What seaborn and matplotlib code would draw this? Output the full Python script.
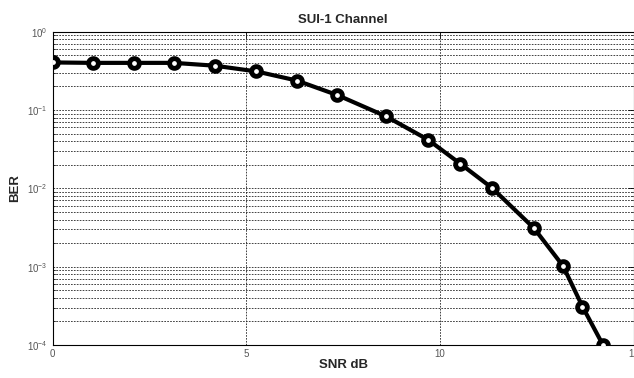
import matplotlib
matplotlib.use("Agg")
import matplotlib.pyplot as plt
import seaborn as sns
import pandas as pd
import numpy as np
from matplotlib.ticker import LogLocator, FixedLocator

snr_db = [0, 1.04, 2.1, 3.13, 4.19, 5.26, 6.3, 7.35, 8.61, 9.69, 10.52, 11.34, 12.42, 13.17, 13.67, 14.2]
ber = [0.405, 0.4, 0.4, 0.4, 0.368, 0.311, 0.238, 0.155, 0.0827, 0.0417, 0.0206, 0.0101, 0.0031, 0.00102, 0.00031, 0.0001]
x_ticks = [0, 5, 10, 15]

df = pd.DataFrame({"SNR dB": snr_db, "BER": ber})

sns.set_theme(style="white")
plt.rcParams["font.family"] = ["Liberation Sans", "DejaVu Sans"]
plt.rcParams["mathtext.fontset"] = "custom"
plt.rcParams["mathtext.rm"] = "Liberation Sans"
plt.rcParams["mathtext.it"] = "Liberation Sans"

fig = plt.figure(figsize=(6.34, 3.78), dpi=100)
ax = fig.add_axes([52.5 / 634, 1 - 345 / 378, 1 - 52.5 / 634, (345 - 31.7) / 378])

sns.lineplot(data=df, x="SNR dB", y="BER", ax=ax, color="black", linewidth=3.0,
             marker="o", markersize=7, markerfacecolor="white",
             markeredgecolor="black", markeredgewidth=3.5, zorder=5)

ax.set_yscale("log")
ax.set_xlim(0, 15)
ax.set_ylim(1e-4, 1e0)
ax.xaxis.set_major_locator(FixedLocator(x_ticks))
ax.yaxis.set_major_locator(LogLocator(base=10, numticks=10))
ax.yaxis.set_minor_locator(LogLocator(base=10, subs=np.arange(2, 10), numticks=20))

ax.grid(True, which="major", axis="both", color="#222222", linestyle=(0, (2, 1.5)), linewidth=0.6)
ax.grid(True, which="minor", axis="y", color="#222222", linestyle=(0, (2, 1.5)), linewidth=0.6)

for s in ax.spines.values():
    s.set_color("black")
    s.set_linewidth(0.8)

ax.tick_params(axis="both", which="major", direction="in", length=4, width=0.6,
               labelsize=7, labelcolor="#555555", color="black", right=True, top=True)
ax.tick_params(axis="y", which="minor", direction="in", length=2, width=0.5, right=True, left=True)
ax.tick_params(axis="x", pad=3)

ax.set_title("SUI-1 Channel", fontsize=9.5, fontweight="bold", pad=6)
ax.set_xlabel("SNR dB", fontsize=9.5, fontweight="bold", labelpad=0)
ax.set_ylabel("BER", fontsize=9.5, fontweight="bold", labelpad=4)

fig.savefig("out.png", dpi=100)
